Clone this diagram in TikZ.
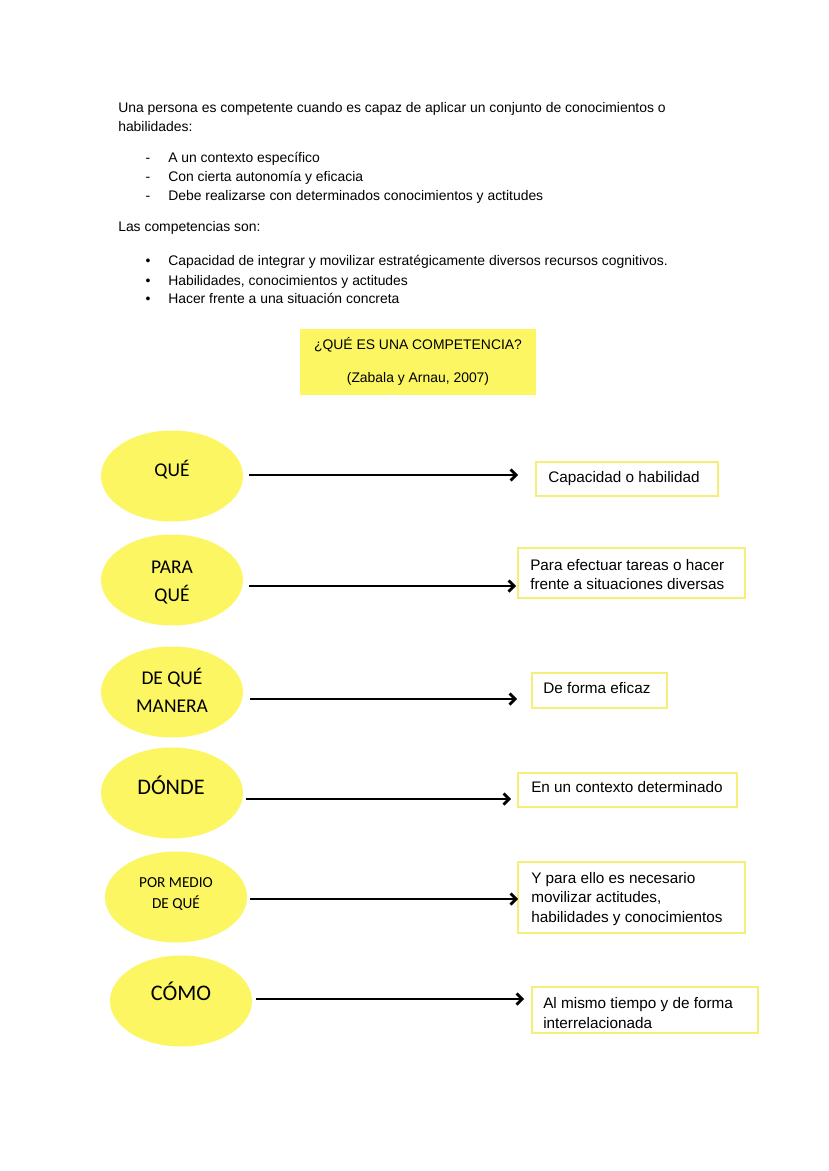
\documentclass[tikz,border=0pt]{standalone}
\usepackage{fontspec}
\setmainfont{Liberation Sans}
\newfontfamily\calib{Carlito}
\usetikzlibrary{shapes.geometric,arrows.meta,calc}
\definecolor{ylw}{RGB}{251,246,98}
\definecolor{ybord}{RGB}{245,238,120}
\def\pxu{0.7189pt}
\begin{document}
\begin{tikzpicture}[x=0.7189pt,y=-0.7189pt,
  body/.style={anchor=base west,font=\fontsize{10}{12}\selectfont,inner sep=0},
  glyph/.style={anchor=base,font=\fontsize{10}{12}\selectfont,inner sep=0},
  ell/.style={ellipse,fill=ylw,inner sep=0,minimum width=142*\pxu,minimum height=91*\pxu},
  etext/.style={anchor=base,font=\calib\fontsize{14}{16}\selectfont,inner sep=0},
  rbox/.style={draw=ybord,line width=1.3pt,fill=white,inner sep=0},
  btext/.style={anchor=base west,font=\fontsize{11}{13}\selectfont,inner sep=0},
  arr/.style={line width=2pt,-{Straight Barb[length=4pt,width=8pt]}}]
\useasboundingbox[fill=white] (0,0) rectangle (828,1171);
% header text
\node[body] (l1) at (118,112) {Una persona es competente cuando es capaz de aplicar un conjunto de conocimientos o};
\node[body] (l2) at (118,131) {habilidades:};
\node[glyph] (d1) at (148,162) {-};
\node[glyph] (d2) at (148,181) {-};
\node[glyph] (d3) at (148,200) {-};
\node[body] (i1) at (168,162) {A un contexto específico};
\node[body] (i2) at (168,181) {Con cierta autonomía y eficacia};
\node[body] (i3) at (168,200) {Debe realizarse con determinados conocimientos y actitudes};
\node[body] (l3) at (118,231) {Las competencias son:};
\node[glyph] (p1) at (148,265) {•};
\node[glyph] (p2) at (148,285) {•};
\node[glyph] (p3) at (148,303) {•};
\node[body] (j1) at (168,265) {Capacidad de integrar y movilizar estratégicamente diversos recursos cognitivos.};
\node[body] (j2) at (168,285) {Habilidades, conocimientos y actitudes};
\node[body] (j3) at (168,303) {Hacer frente a una situación concreta};
% title box
\node[fill=ylw,inner sep=0,minimum width=236*\pxu,minimum height=66*\pxu] (tb) at (418,362) {};
\node[glyph] (tt1) at (418,349) {¿QUÉ ES UNA COMPETENCIA?};
\node[glyph] (tt2) at (418,382) {(Zabala y Arnau, 2007)};
% ellipses
\node[ell] (e1) at (172,476) {};
\node[ell] (e2) at (172,580) {};
\node[ell] (e3) at (172,692) {};
\node[ell] (e4) at (172,793) {};
\node[ell] (e5) at (176,897) {};
\node[ell] (e6) at (181,1001) {};
\node[etext] (t1) at (172,476) {QUÉ};
\node[etext] (t2a) at (172,573) {PARA};
\node[etext] (t2b) at (172,601) {QUÉ};
\node[etext] (t3a) at (172,684) {DE QUÉ};
\node[etext] (t3b) at (172,712) {MANERA};
\node[etext,font=\calib\fontsize{16}{18}\selectfont] (t4) at (171,794) {DÓNDE};
\node[etext,font=\calib\fontsize{11}{13}\selectfont] (t5a) at (176,887) {POR MEDIO};
\node[etext,font=\calib\fontsize{11}{13}\selectfont] (t5b) at (176,908) {DE QUÉ};
\node[etext,font=\calib\fontsize{16}{18}\selectfont] (t6) at (181,1000) {CÓMO};
% right boxes
\node[rbox,minimum width=182*\pxu,minimum height=34*\pxu] (b1) at (627,479) {};
\node[rbox,minimum width=227*\pxu,minimum height=50*\pxu] (b2) at (631.5,573) {};
\node[rbox,minimum width=135*\pxu,minimum height=35*\pxu] (b3) at (599.5,690.5) {};
\node[rbox,minimum width=219*\pxu,minimum height=34*\pxu] (b4) at (627.5,790) {};
\node[rbox,minimum width=227*\pxu,minimum height=71*\pxu] (b5) at (631.5,897.5) {};
\node[rbox,minimum width=226*\pxu,minimum height=46*\pxu] (b6) at (645,1010) {};
\node[btext] (s1) at (548,482) {Capacidad o habilidad};
\node[btext] (s2a) at (530,570) {Para efectuar tareas o hacer};
\node[btext] (s2b) at (530,589) {frente a situaciones diversas};
\node[btext] (s3) at (543,693) {De forma eficaz};
\node[btext] (s4) at (531,792) {En un contexto determinado};
\node[btext] (s5a) at (531,883) {Y para ello es necesario};
\node[btext] (s5b) at (531,902) {movilizar actitudes,};
\node[btext] (s5c) at (531,922) {habilidades y conocimientos};
\node[btext] (s6a) at (543,1008) {Al mismo tiempo y de forma};
\node[btext] (s6b) at (543,1028) {interrelacionada};
% arrows
\draw[arr] ($(e1.east)+(6,-1)$) -- ($(b1.west)+(-17,-4)$);
\draw[arr] ($(e2.east)+(6,6)$) -- ($(b2.west)+(-1,13)$);
\draw[arr] ($(e3.east)+(7,7)$) -- ($(b3.west)+(-14,8.5)$);
\draw[arr] ($(e4.east)+(3,6)$) -- ($(b4.west)+(-6,9)$);
\draw[arr] ($(e5.east)+(3,2)$) -- ($(b5.west)+(1,1.5)$);
\draw[arr] ($(e6.east)+(4,-2)$) -- ($(b6.west)+(-7,-11)$);
\end{tikzpicture}
\end{document}
